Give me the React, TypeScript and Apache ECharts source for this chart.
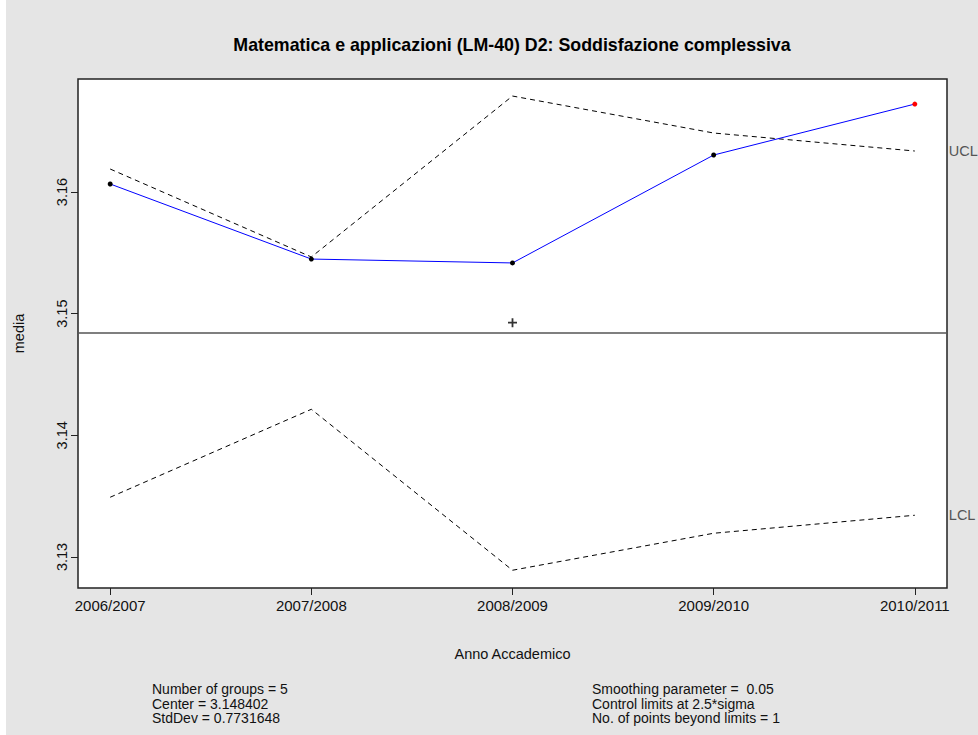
import React, { useEffect, useRef } from "react";
import * as echarts from "echarts";

const categories = ["2006/2007", "2007/2008", "2008/2009", "2009/2010", "2010/2011"];
const ewma = [3.16066, 3.15449, 3.15417, 3.16304, 3.16723];
const ucl = [3.16189, 3.15466, 3.16789, 3.16485, 3.16337];
const lcl = [3.13491, 3.14214, 3.12891, 3.13195, 3.13343];
const groupStats = [3.3936, 3.0373, 3.14926, 3.3316, 3.2468];
const center = 3.148402;
const yTicks = [3.13, 3.14, 3.15, 3.16];
const xMin = 0.84;
const xMax = 5.16;
const yMin = 3.12745;
const yMax = 3.16929;
const leftStats = ["Number of groups = 5", "Center = 3.148402", "StdDev = 0.7731648"];
const rightStats = ["Smoothing parameter =  0.05", "Control limits at 2.5*sigma", "No. of points beyond limits = 1"];
const titleText = "Matematica e applicazioni (LM-40) D2: Soddisfazione complessiva";

const FONT = "'Liberation Sans', Arial, sans-serif";
const FS = 14.5;

export default function App() {
  const ref = useRef<HTMLDivElement>(null);
  useEffect(() => {
    if (!ref.current) return;
    const chart = echarts.init(ref.current, null, { renderer: "svg" });
    const xs = categories.map((_, i) => i + 1);
    const pair = (arr: number[]) => arr.map((v, i) => [xs[i], v]);
    const ewmaData = ewma.map((v, i) => ({
      value: [xs[i], v],
      itemStyle: { color: v > ucl[i] || v < lcl[i] ? "#ff0000" : "#000000" },
    }));
    const statLines = (lines: string[], x: number) =>
      lines.map((t, i) => ({
        type: "text",
        x,
        y: 689 + i * 14.5,
        style: { text: t, font: `14px ${FONT}`, fill: "#111", textAlign: "left", textVerticalAlign: "middle" },
      }));
    chart.setOption({
      animation: false,
      backgroundColor: "#ffffff",
      textStyle: { fontFamily: FONT },
      graphic: [
        { type: "rect", z: -10, shape: { x: 6, y: 0, width: 972, height: 735 }, style: { fill: "#e5e5e5" }, silent: true },
        {
          type: "text",
          x: 512,
          y: 45,
          style: { text: titleText, font: `bold 17.8px ${FONT}`, fill: "#000", textAlign: "center", textVerticalAlign: "middle" },
        },
        ...statLines(leftStats, 152),
        ...statLines(rightStats, 592),
      ],
      grid: {
        left: 78,
        top: 79,
        width: 869,
        height: 509,
        show: true,
        backgroundColor: "#ffffff",
        borderColor: "#222",
        borderWidth: 1.5,
      },
      xAxis: {
        type: "value",
        min: xMin,
        max: xMax,
        axisLine: { show: false },
        splitLine: { show: false },
        axisTick: { show: true, inside: false, length: 7, customValues: xs, lineStyle: { color: "#222" } },
        axisLabel: {
          customValues: xs,
          margin: 10,
          fontSize: 15,
          color: "#111",
          formatter: (v: number) => categories[Math.round(v) - 1] ?? "",
        },
        name: "Anno Accademico",
        nameLocation: "middle",
        nameGap: 58,
        nameTextStyle: { fontSize: FS, color: "#111" },
      },
      yAxis: {
        type: "value",
        min: yMin,
        max: yMax,
        axisLine: { show: false },
        splitLine: { show: false },
        axisTick: { show: true, inside: false, length: 7, customValues: yTicks, lineStyle: { color: "#222" } },
        axisLabel: {
          customValues: yTicks,
          rotate: 90,
          margin: 9,
          fontSize: FS,
          color: "#111",
          formatter: (v: number) => v.toFixed(2),
        },
        name: "media",
        nameLocation: "middle",
        nameGap: 52,
        nameTextStyle: { fontSize: FS, color: "#111" },
      },
      series: [
        {
          type: "line",
          data: [[xMin, center], [xMax, center]],
          symbol: "none",
          lineStyle: { color: "#555", width: 1.5, type: "solid" },
        },
        {
          type: "line",
          data: pair(ucl),
          symbol: "none",
          lineStyle: { color: "#000", width: 1, type: [5, 4] },
          endLabel: { show: true, formatter: "UCL", distance: 34, color: "#555", fontSize: FS },
        },
        {
          type: "line",
          data: pair(lcl),
          symbol: "none",
          lineStyle: { color: "#000", width: 1, type: [5, 4] },
          endLabel: { show: true, formatter: "LCL", distance: 34, color: "#555", fontSize: FS },
        },
        {
          type: "line",
          data: ewmaData,
          symbol: "circle",
          symbolSize: 5,
          showAllSymbol: true,
          lineStyle: { color: "#0000ff", width: 1 },
        },
        {
          type: "scatter",
          data: pair(groupStats),
          clip: true,
          symbol: "path://M4,0H6V4H10V6H6V10H4V6H0V4H4Z",
          symbolSize: 9,
          itemStyle: { color: "#000" },
        },
      ],
    });
    return () => chart.dispose();
  }, []);
  return (
    <div
      ref={ref}
      style={{ position: "absolute", left: 0, top: 0, width: 978, height: 735 }}
    />
  );
}
